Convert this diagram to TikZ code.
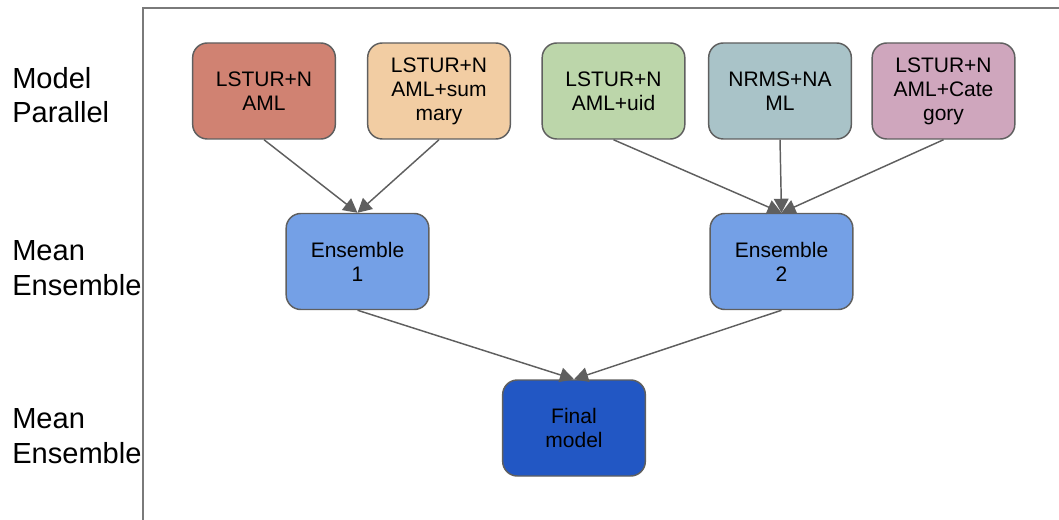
\documentclass[tikz,border=0pt]{standalone}
\usepackage{fontspec}
\setmainfont{Liberation Sans}
\usetikzlibrary{arrows.meta}
\definecolor{cA}{HTML}{D08272}
\definecolor{cB}{HTML}{F2CDA3}
\definecolor{cC}{HTML}{BCD6AA}
\definecolor{cD}{HTML}{A9C3C8}
\definecolor{cE}{HTML}{CFA6BD}
\definecolor{cEns}{HTML}{74A0E6}
\definecolor{cFin}{HTML}{2257C4}
\definecolor{edge}{HTML}{5F5F5F}
\definecolor{frame}{HTML}{7A7A7A}
\tikzset{
  box/.style={draw=edge, line width=1.1pt, rounded corners=11pt, minimum width=107pt, minimum height=72pt, align=center, inner sep=2pt, font=\fontsize{15.75}{18}\selectfont},
  lvl/.style={anchor=west, align=left, inner sep=0pt, font=\fontsize{21.8}{26}\selectfont},
  conn/.style={draw=edge, line width=1.1pt, -{Triangle[length=10.5pt,width=11pt]}}
}
\begin{document}
\begin{tikzpicture}[x=0.75pt,y=-0.75pt]
\useasboundingbox (0,0) rectangle (1059,520);
\draw[frame, line width=1.3pt] (143,521) -- (143,8) -- (1060,8);
\node[lvl] (l1) at (12,95) {Model\\Parallel};
\node[lvl] (l2) at (12,268) {Mean\\Ensemble};
\node[lvl] (l3) at (12,436) {Mean\\Ensemble};
\node[box, fill=cA] (b1) at (264,91) {LSTUR+N\\AML};
\node[box, fill=cB] (b2) at (439,91) {LSTUR+N\\AML+sum\\mary};
\node[box, fill=cC] (b3) at (613.5,91) {LSTUR+N\\AML+uid};
\node[box, fill=cD] (b4) at (780,91) {NRMS+NA\\ML};
\node[box, fill=cE] (b5) at (943.5,91) {LSTUR+N\\AML+Cate\\gory};
\node[box, fill=cEns] (e1) at (357.5,261.5) {Ensemble\\1};
\node[box, fill=cEns] (e2) at (781.5,261.5) {Ensemble\\2};
\node[box, fill=cFin] (f) at (574,428) {Final\\model};
\draw[conn] (b1.south) -- (e1.north);
\draw[conn] (b2.south) -- (e1.north);
\draw[conn] (b3.south) -- (e2.north);
\draw[conn] (b4.south) -- (e2.north);
\draw[conn] (b5.south) -- (e2.north);
\draw[conn] (e1.south) -- (f.north);
\draw[conn] (e2.south) -- (f.north);
\end{tikzpicture}
\end{document}
